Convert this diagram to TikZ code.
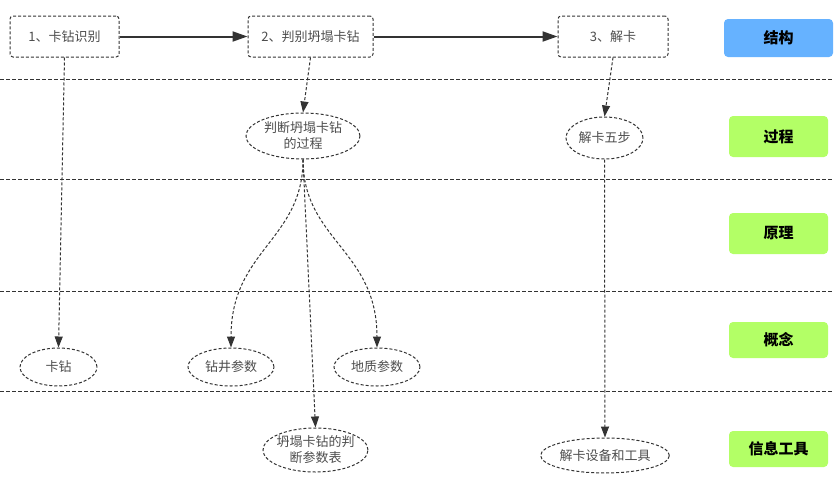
\documentclass[tikz,border=0pt]{standalone}
\usepackage{fontspec}
\setmainfont{Noto Sans CJK SC}
\usetikzlibrary{arrows.meta,shapes.geometric}
\definecolor{ln}{HTML}{333333}
\definecolor{tx}{HTML}{4D4D4D}
\definecolor{tagblue}{HTML}{66B2FF}
\definecolor{taggreen}{HTML}{B3FF66}
\begin{document}
\begin{tikzpicture}[x=1pt,y=-1pt,
  boxnode/.style={draw=ln, line width=1pt, dash pattern=on 3pt off 2pt, rounded corners=3pt,
    minimum height=41pt, text=tx, font=\fontsize{13}{17}\selectfont, inner sep=0pt},
  ellnode/.style={ellipse, draw=ln, line width=1pt, dash pattern=on 3pt off 2pt,
    text=tx, font=\fontsize{13}{17}\selectfont, inner sep=0pt, align=center},
  tagnode/.style={rounded corners=4pt, minimum width=99pt, minimum height=38pt,
    font=\fontsize{15}{17}\selectfont\bfseries, text=black, inner sep=0pt},
  solidarr/.style={draw=ln, line width=2pt, -{Triangle[length=15pt,width=10pt]}},
  dasharr/.style={draw=ln, line width=1pt, dash pattern=on 3pt off 2pt,
    -{Triangle[length=11pt,width=8pt]}},
  sepline/.style={draw=ln, line width=1pt, dash pattern=on 4pt off 2pt}]
\useasboundingbox (0,0) rectangle (838,482);

% separators
\draw[sepline] (0,79) -- (833,79);
\draw[sepline] (0,179) -- (833,179);
\draw[sepline] (0,291) -- (833,291);
\draw[sepline] (0,391) -- (833,391);

% top boxes
\node[boxnode, minimum width=109pt] (b1) at (64.5,36.5) {1、卡钻识别};
\node[boxnode, minimum width=125pt] (b2) at (310.5,36.5) {2、判别坍塌卡钻};
\node[boxnode, minimum width=110pt] (b3) at (613,36.5) {3、解卡};

% tags
\node[tagnode, fill=tagblue, minimum width=109pt] (t1) at (778.5,38) {结构};
\node[tagnode, fill=taggreen, minimum height=41pt] (t2) at (778.5,136.5) {过程};
\node[tagnode, fill=taggreen, minimum height=41pt] (t3) at (778.5,233.5) {原理};
\node[tagnode, fill=taggreen, minimum height=36pt] (t4) at (778.5,340) {概念};
\node[tagnode, fill=taggreen, minimum height=36pt] (t5) at (778.5,449) {信息工具};

% ellipses
\node[ellnode, minimum width=114pt, minimum height=46pt] (p1) at (303,136) {判断坍塌卡钻\\[-1pt]的过程};
\node[ellnode, minimum width=77pt, minimum height=42pt] (p2) at (604.5,138) {解卡五步};
\node[ellnode, minimum width=77pt, minimum height=38pt] (kz) at (58.5,367) {卡钻};
\node[ellnode, minimum width=86pt, minimum height=38pt] (zj) at (231,367) {钻井参数};
\node[ellnode, minimum width=86pt, minimum height=38pt] (dz) at (377,367) {地质参数};
\node[ellnode, inner xsep=-2pt, minimum width=105pt, minimum height=44pt] (tb) at (315.5,450) {坍塌卡钻的判\\[-1pt]断参数表};
\node[ellnode, minimum width=128pt, minimum height=35pt] (gj) at (605,455.5) {解卡设备和工具};

% connectors
\draw[solidarr] (b1) -- (b2);
\draw[solidarr] (b2) -- (b3);
\draw[dasharr] (b1.south) -- (kz.north);
\draw[dasharr] (b2.south) -- (p1.north);
\draw[dasharr] (b3.south) -- (p2.north);
\draw[dasharr] (p1.south) .. controls (303,240) and (231,250) .. (zj.north);
\draw[dasharr] (p1.south) .. controls (303,240) and (377,250) .. (dz.north);
\draw[dasharr] (p1.south) -- (tb.north);
\draw[dasharr] (p2.south) -- (gj.north);
\end{tikzpicture}
\end{document}
